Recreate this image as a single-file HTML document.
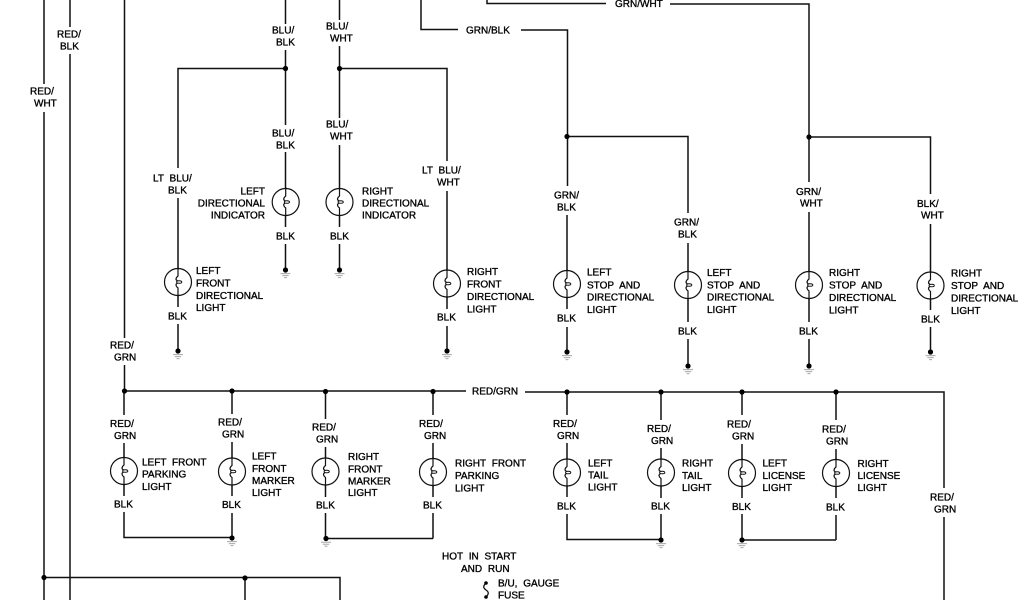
<!DOCTYPE html>
<html><head><meta charset="utf-8"><title>Wiring diagram</title>
<style>
html,body{margin:0;padding:0;background:#fff;width:1024px;height:600px;overflow:hidden}
svg{display:block;filter:blur(.3px)}
text{font-family:"Liberation Sans",Arial,sans-serif;font-size:10px;fill:#000;stroke:#000;stroke-width:.32;dominant-baseline:central;word-spacing:3px;transform:translateY(.8px)}
.r{text-anchor:end}
.w{fill:none;stroke:#111;stroke-width:1.5}
</style></head><body>
<svg width="1024" height="600" viewBox="0 0 1024 600" xmlns="http://www.w3.org/2000/svg">
<defs>
<g id="b"><circle r="13.5" fill="#fff" stroke="#111" stroke-width="1.2"/><path d="M0-15V-6C-2-4.500-3-2-.5-1.200M-.5 1.200C-3 2-2 4.500 0 6V15" fill="none" stroke="#111" stroke-width="1.2"/><ellipse cx="1.200" cy="0" rx="2.600" ry="1.300" fill="none" stroke="#111" stroke-width="1"/></g>
<g id="g"><circle r="2.600" fill="#000"/><path d="M-5 3.700H5M-3.200 5.700H3.200M-1.500 7.700H1.500" stroke="#999" stroke-width=".8"/></g>
<circle id="d" r="2.600" fill="#000"/>
</defs>
<rect width="1024" height="600" fill="#fff"/>
<path class="w" d="M44 0V84M44 112V600M70 0V27M70 54V600M124.500 0V338M124.500 365V391
M285.500 0V24M285.500 50V125M285.500 152V227M285.500 244V268
M339.500 0V20M339.500 46V118M339.500 145V227M339.500 244V268
M285.500 68.500H178V168M178 198V307M178 324V349
M339.500 68.500H447V161M447 191V309M447 326V349
M421 0V29.500H458M521 30H567.500V186M567 215V309M567 327V350
M567 136.500H688V213M688 243V322M688 339V364
M487 0V3.500H606M670 4H809V182M809 212V322M809 339V364
M809 137H930.500V194M930.500 224V310M930.500 327V350
M44 577.500H340V600M245 577.500V600
M124.500 391H466M525 392H944V488M944 517V600
M124 391V415M124 443V496M124 512V537.500H232M232 391V414M232 442V496M232 513V538
M325.500 391V419M325.500 447V497M325.500 513V538.500H433M433 391V415M433 443V497M433 513V538.500
M567 391V415M567 443V497M567 514V539.500H661M661 391V420M661 448V498M661 514V540
M742 391V415M742 444V498M742 514V540H836M836 391V420M836 449V498M836 515V540"/>
<use href="#d" x="285.500" y="68.500"/><use href="#d" x="339.500" y="68.500"/><use href="#d" x="567" y="136.500"/><use href="#d" x="809" y="137"/>
<use href="#d" x="124.500" y="391"/><use href="#d" x="232" y="391"/><use href="#d" x="325.500" y="391.500"/><use href="#d" x="433" y="391.500"/><use href="#d" x="567" y="392"/><use href="#d" x="661" y="392"/><use href="#d" x="742" y="392"/><use href="#d" x="836" y="392"/>
<use href="#d" x="44" y="577.500"/><use href="#d" x="245" y="578"/>
<use href="#b" x="285.700" y="202"/><use href="#b" x="339.500" y="202"/><use href="#b" x="178" y="282"/><use href="#b" x="447" y="283.500"/><use href="#b" x="567" y="284"/><use href="#b" x="688" y="285"/><use href="#b" x="809" y="285"/><use href="#b" x="930.500" y="285.500"/>
<use href="#b" x="124" y="471"/><use href="#b" x="232" y="471.500"/><use href="#b" x="325.500" y="471.500"/><use href="#b" x="433" y="472"/><use href="#b" x="567" y="472.500"/><use href="#b" x="661" y="472.500"/><use href="#b" x="742" y="473"/><use href="#b" x="836" y="473"/>
<use href="#g" x="285.500" y="270"/><use href="#g" x="339.500" y="270"/><use href="#g" x="178" y="351"/><use href="#g" x="447" y="351"/><use href="#g" x="567" y="352"/><use href="#g" x="688" y="366"/><use href="#g" x="809" y="366"/><use href="#g" x="930.500" y="352"/>
<use href="#g" x="232" y="538"/><use href="#g" x="326" y="538.500"/><use href="#g" x="661" y="540"/><use href="#g" x="742" y="540"/>
<path d="M486 583C483 586 483 588 486 590S489 594 486 597" fill="none" stroke="#111" stroke-width="1.300"/><circle cx="486" cy="583" r="1.800" fill="#000"/><circle cx="486" cy="597" r="1.800" fill="#000"/>

<text x="57" y="34">RED/</text><text x="60" y="46">BLK</text>
<text x="30" y="91">RED/</text><text x="34" y="103">WHT</text>
<text x="272" y="30">BLU/</text><text x="276" y="42">BLK</text>
<text x="326" y="26">BLU/</text><text x="330" y="38">WHT</text>
<text x="272" y="133">BLU/</text><text x="276" y="145">BLK</text>
<text x="326" y="124">BLU/</text><text x="330" y="136">WHT</text>
<text x="153" y="178">LT BLU/</text><text x="168" y="190">BLK</text>
<text x="422" y="170">LT BLU/</text><text x="437" y="182">WHT</text>
<text x="466" y="30">GRN/BLK</text><text x="615" y="3.500">GRN/WHT</text>
<text x="554" y="195">GRN/</text><text x="557" y="207">BLK</text>
<text x="674" y="222">GRN/</text><text x="678" y="234">BLK</text>
<text x="796" y="191.500">GRN/</text><text x="800" y="203">WHT</text>
<text x="917" y="203.500">BLK/</text><text x="921" y="215">WHT</text>
<text x="110" y="345">RED/</text><text x="114" y="357">GRN</text>
<text x="472" y="391">RED/GRN</text>

<text class="r" x="265" y="191">LEFT</text><text class="r" x="265" y="203">DIRECTIONAL</text><text class="r" x="265" y="215">INDICATOR</text>
<text x="362" y="191">RIGHT</text><text x="362" y="203">DIRECTIONAL</text><text x="362" y="215">INDICATOR</text>
<text x="196" y="270.500">LEFT</text><text x="196" y="283">FRONT</text><text x="196" y="295.500">DIRECTIONAL</text><text x="196" y="307.500">LIGHT</text>
<text x="467" y="271.500">RIGHT</text><text x="467" y="284">FRONT</text><text x="467" y="296.500">DIRECTIONAL</text><text x="467" y="309">LIGHT</text>
<text x="587" y="272">LEFT</text><text x="587" y="285">STOP AND</text><text x="587" y="297">DIRECTIONAL</text><text x="587" y="309.500">LIGHT</text>
<text x="707" y="272.500">LEFT</text><text x="707" y="285">STOP AND</text><text x="707" y="297">DIRECTIONAL</text><text x="707" y="309.500">LIGHT</text>
<text x="829" y="272.500">RIGHT</text><text x="829" y="285">STOP AND</text><text x="829" y="297.500">DIRECTIONAL</text><text x="829" y="310">LIGHT</text>
<text x="951" y="273">RIGHT</text><text x="951" y="285.500">STOP AND</text><text x="951" y="298">DIRECTIONAL</text><text x="951" y="310.500">LIGHT</text>

<text x="276" y="236">BLK</text><text x="330" y="236">BLK</text><text x="168" y="316">BLK</text><text x="437" y="317">BLK</text><text x="557" y="318">BLK</text><text x="678" y="331">BLK</text><text x="799" y="331">BLK</text><text x="921" y="319">BLK</text>
<text x="114" y="504">BLK</text><text x="222" y="504.500">BLK</text><text x="316" y="505">BLK</text><text x="423" y="505">BLK</text><text x="557" y="506">BLK</text><text x="651" y="506">BLK</text><text x="732" y="506.500">BLK</text><text x="826" y="507">BLK</text>

<text x="110" y="423.500">RED/</text><text x="114" y="435.500">GRN</text>
<text x="218" y="422">RED/</text><text x="222" y="434">GRN</text>
<text x="312" y="427">RED/</text><text x="316" y="439">GRN</text>
<text x="419" y="423.500">RED/</text><text x="424" y="435.500">GRN</text>
<text x="553" y="423.500">RED/</text><text x="557" y="435.500">GRN</text>
<text x="647" y="428.500">RED/</text><text x="651" y="440.500">GRN</text>
<text x="727" y="424">RED/</text><text x="732" y="436">GRN</text>
<text x="822" y="429">RED/</text><text x="826" y="441">GRN</text>
<text x="930" y="497">RED/</text><text x="934" y="509">GRN</text>

<text x="142" y="462">LEFT FRONT</text><text x="142" y="474">PARKING</text><text x="142" y="486.500">LIGHT</text>
<text x="252" y="456">LEFT</text><text x="252" y="468.500">FRONT</text><text x="252" y="480.500">MARKER</text><text x="252" y="492.500">LIGHT</text>
<text x="348" y="456.500">RIGHT</text><text x="348" y="469">FRONT</text><text x="348" y="481">MARKER</text><text x="348" y="492.500">LIGHT</text>
<text x="455" y="463">RIGHT FRONT</text><text x="455" y="475.500">PARKING</text><text x="455" y="488">LIGHT</text>
<text x="588" y="463">LEFT</text><text x="588" y="475">TAIL</text><text x="588" y="487">LIGHT</text>
<text x="682" y="463">RIGHT</text><text x="682" y="475.500">TAIL</text><text x="682" y="487.500">LIGHT</text>
<text x="762.500" y="463">LEFT</text><text x="762.500" y="475.500">LICENSE</text><text x="762.500" y="487.500">LIGHT</text>
<text x="857.500" y="463.500">RIGHT</text><text x="857.500" y="475.500">LICENSE</text><text x="857.500" y="487.500">LIGHT</text>

<text x="442" y="556">HOT IN START</text><text x="461" y="568.500">AND RUN</text>
<text x="498" y="583">B/U, GAUGE</text><text x="498" y="595">FUSE</text>
</svg>
</body></html>
